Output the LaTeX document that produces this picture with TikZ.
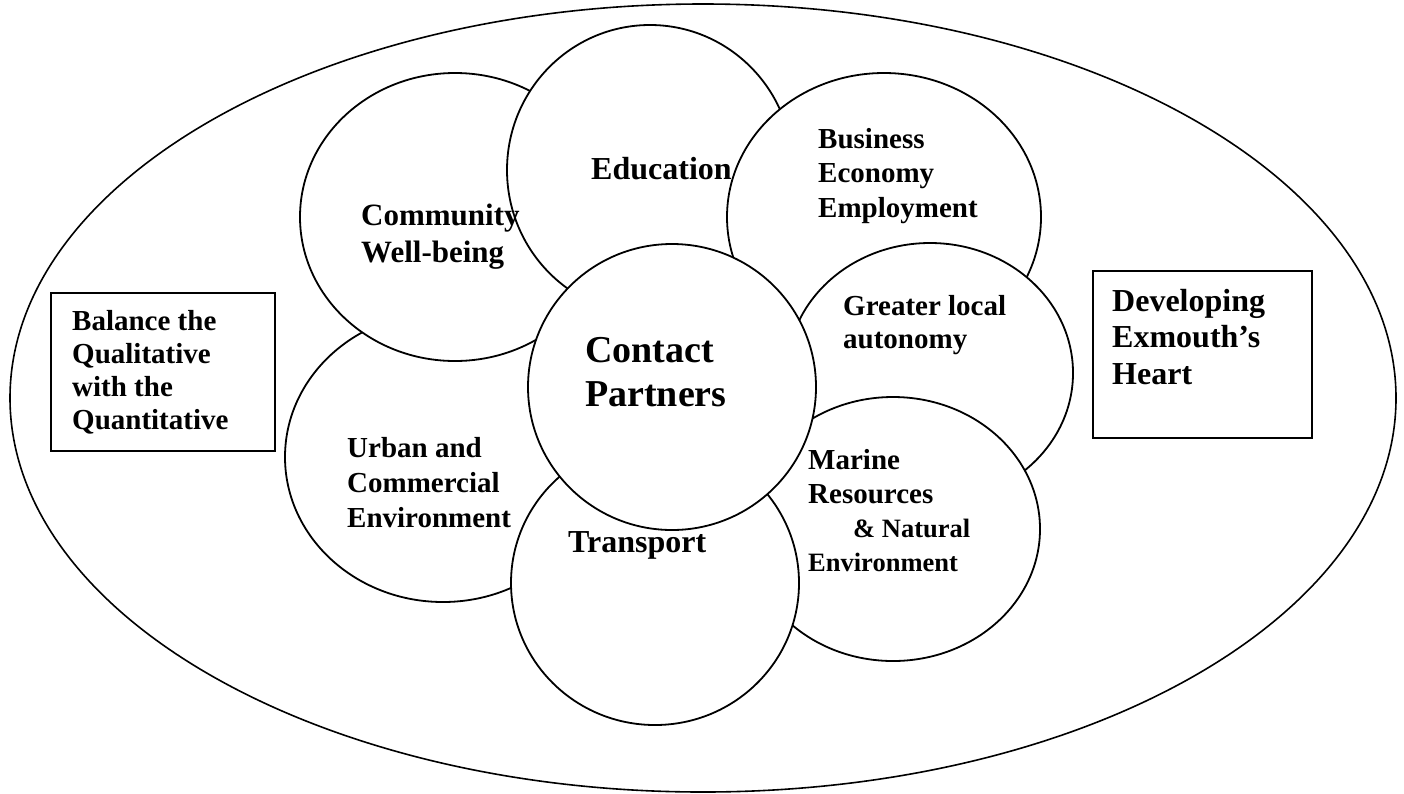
\documentclass[tikz,border=0pt]{standalone}
\usepackage{fontspec}
\setmainfont{Liberation Serif}
\usetikzlibrary{shapes.geometric}
\begin{document}
\begin{tikzpicture}[x=1pt,y=-1pt,
  bubble/.style={ellipse,draw,fill=white,line width=1.8pt,inner sep=0pt},
  txt/.style={anchor=north west,inner sep=0pt,align=left},
  framebox/.style={draw,line width=1.8pt,rectangle,inner sep=0pt,anchor=north west}]
\useasboundingbox (0,0) rectangle (1404,793);
% outer ellipse
\node[bubble, line width=1.6pt, minimum width=1386pt, minimum height=788pt] (outer) at (703,398) {};
% side boxes
\node[framebox, minimum width=224pt, minimum height=158pt] (lbox) at (50,292) {};
\node[framebox, minimum width=219pt, minimum height=167pt] (rbox) at (1092,270) {};
% bubbles, bottom to top
\node[bubble, minimum width=316pt, minimum height=290pt] (urban) at (443,457) {};
\node[bubble, minimum width=310pt, minimum height=288pt] (community) at (455,217) {};
\node[bubble, minimum width=286pt, minimum height=290pt] (education) at (650,170) {};
\node[bubble, minimum width=314pt, minimum height=288pt] (business) at (884,217) {};
\node[bubble, minimum width=286pt, minimum height=260pt] (greater) at (930,373) {};
\node[bubble, minimum width=294pt, minimum height=264pt] (marine) at (893,529) {};
\node[bubble, minimum width=288pt, minimum height=284pt] (transport) at (655,583) {};
\node[bubble, minimum width=288pt, minimum height=286pt] (contact) at (672,387) {};
% texts
\node[txt, font=\bfseries\fontsize{32}{36}\selectfont] (tedu) at (591,157) {Education};
\node[txt, font=\bfseries\fontsize{31}{37}\selectfont] (tcom) at (361,204) {Community\\Well-being};
\node[txt, font=\bfseries\fontsize{29}{34.5}\selectfont] (tbus) at (818,128) {Business\\Economy\\Employment};
\node[txt, font=\bfseries\fontsize{29}{33}\selectfont] (tgre) at (843,295) {Greater local\\autonomy};
\node[txt, font=\bfseries\fontsize{38}{44}\selectfont] (tcon) at (585,337) {Contact\\Partners};
\node[txt, font=\bfseries\fontsize{29}{35}\selectfont] (turb) at (347,437) {Urban and\\Commercial\\Environment};
\node[txt, font=\bfseries\fontsize{32}{36}\selectfont] (ttra) at (568,531) {Transport};
\node[txt, font=\bfseries\fontsize{29}{34}\selectfont] (tmar) at (808,449) {Marine\\Resources\\\hspace*{45pt}{\fontsize{26.5}{31}\selectfont\& Natural}\\{\fontsize{26.5}{31}\selectfont Environment}};
\node[txt, font=\bfseries\fontsize{29}{33}\selectfont] (tbal) at (72,310) {Balance the\\Qualitative\\with the\\Quantitative};
\node[txt, font=\bfseries\fontsize{32}{36.5}\selectfont] (tdev) at (1112,289) {Developing\\Exmouth’s\\Heart};
\end{tikzpicture}
\end{document}
